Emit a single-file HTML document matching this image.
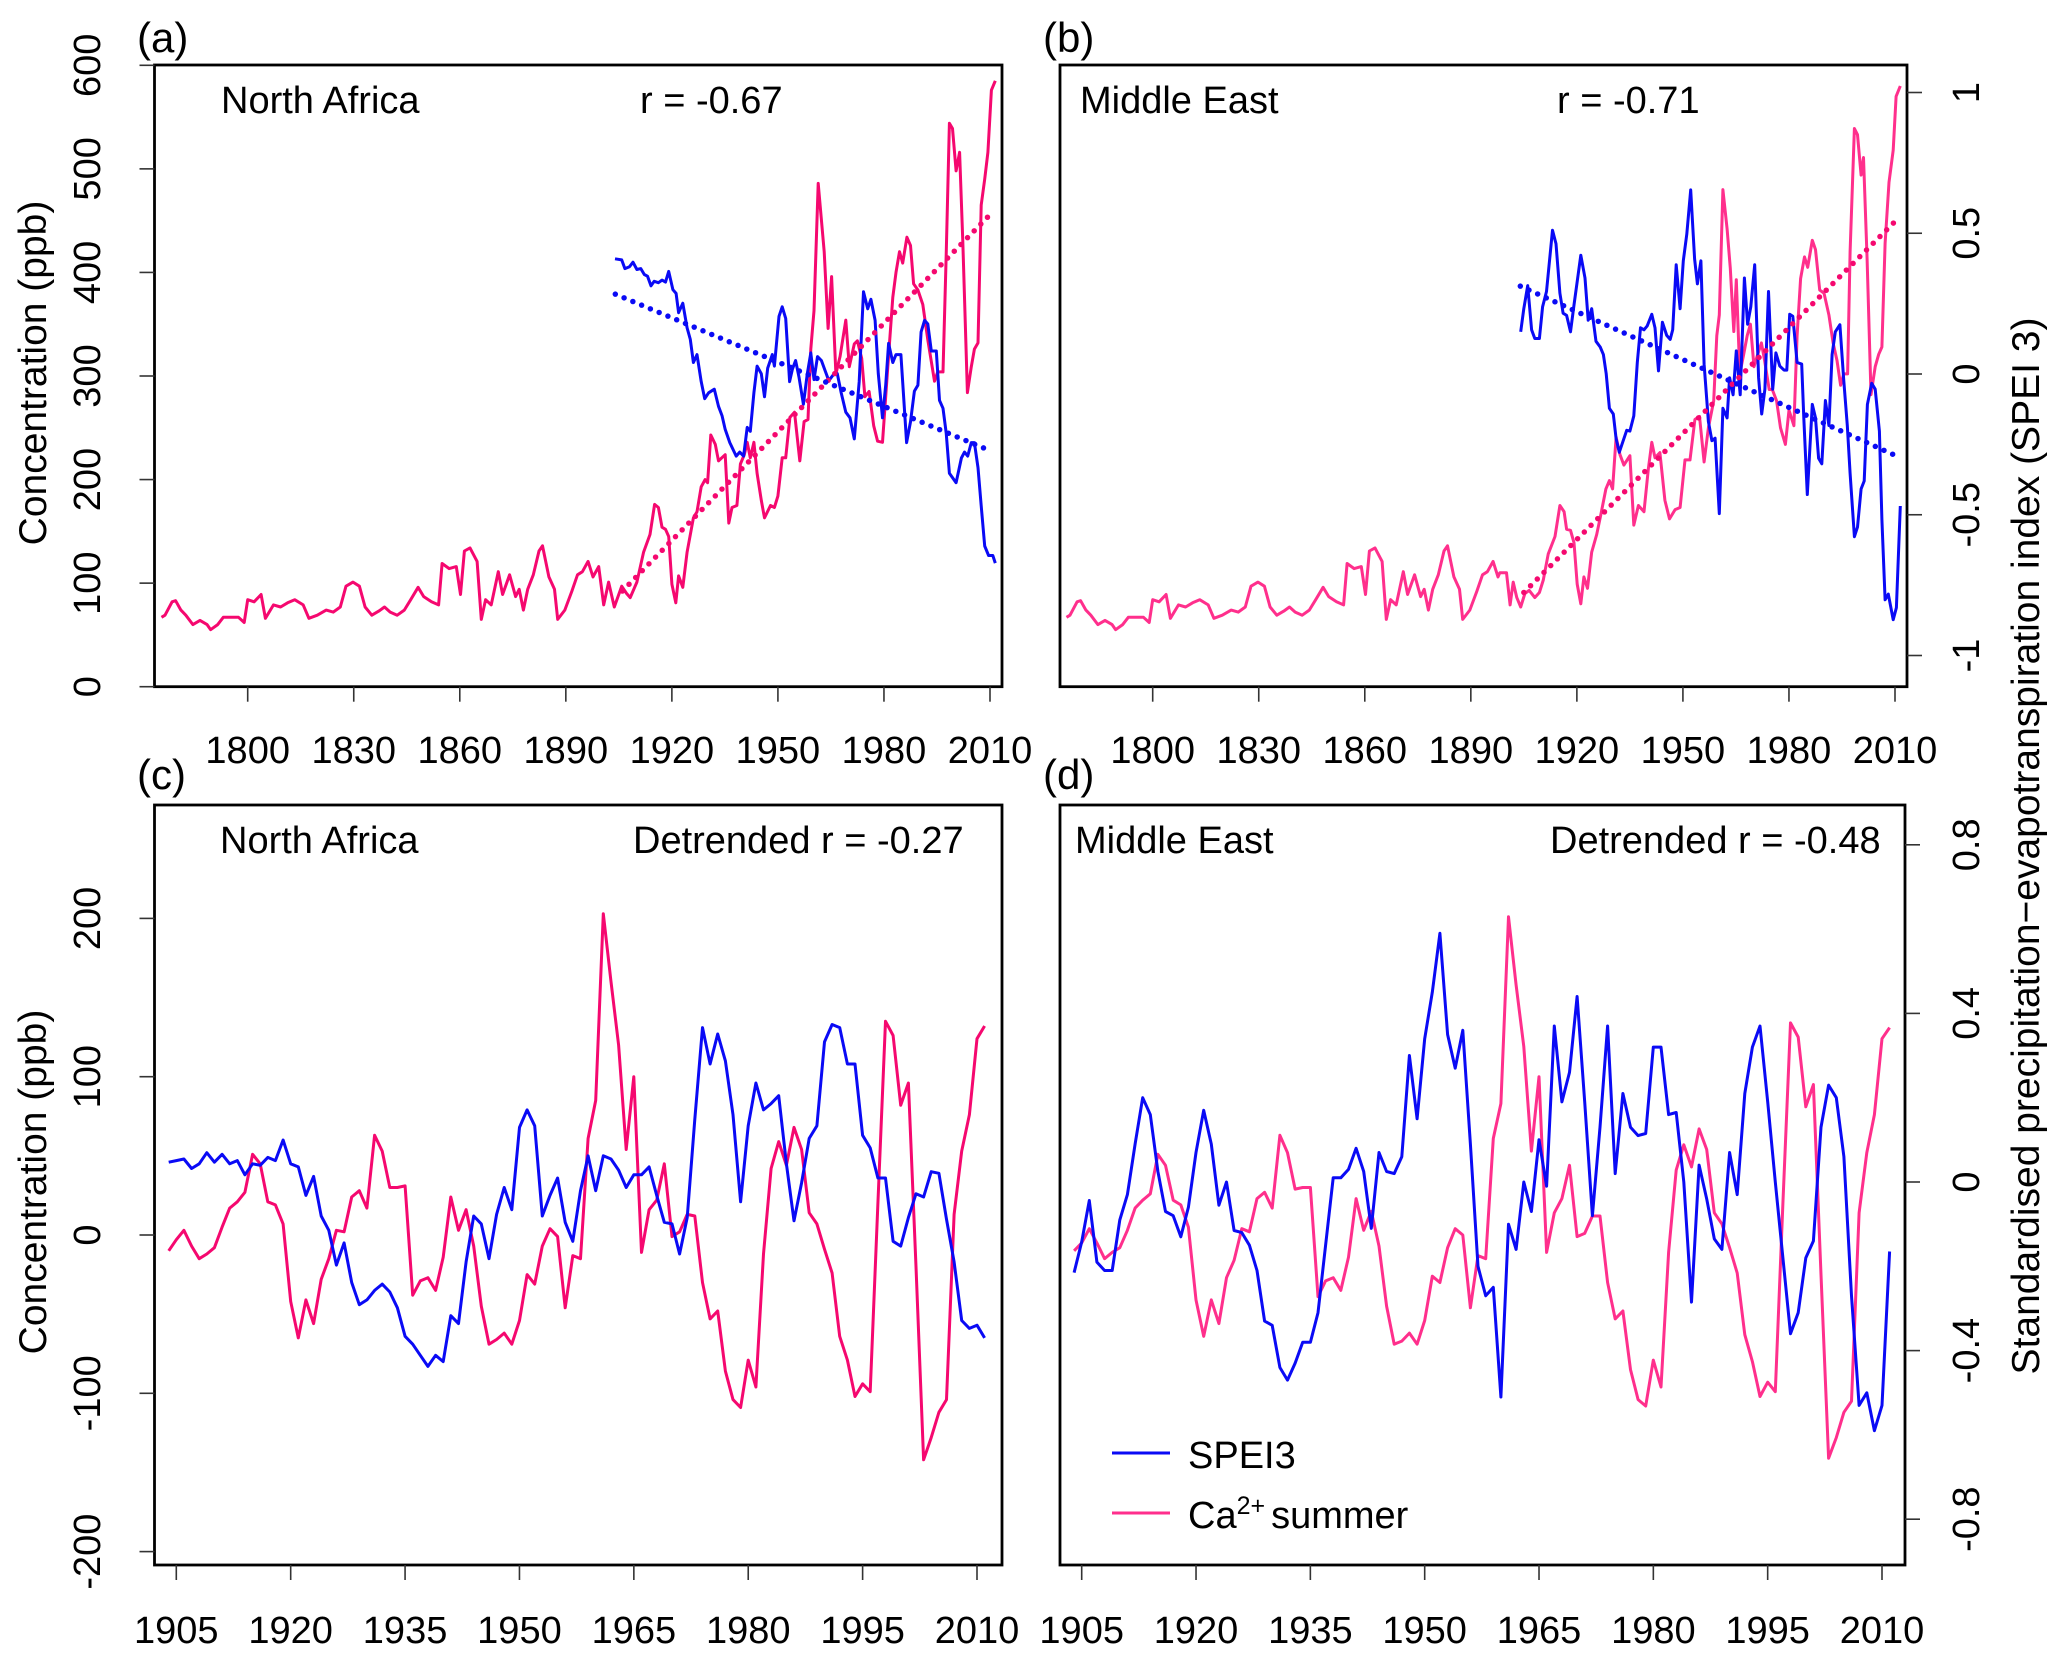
<!DOCTYPE html>
<html><head><meta charset="utf-8"><title>Ca2+ and SPEI3</title>
<style>
html,body{margin:0;padding:0;background:#fff;}
svg{display:block;font-family:"Liberation Sans",Arial,sans-serif;}
</style></head>
<body>
<svg id="chart" width="2067" height="1662" viewBox="0 0 2067 1662" xmlns="http://www.w3.org/2000/svg"></svg>
<script>
// ===== DATA =====
const earlyYears = [1775.6,1776.6,1778.6,1779.6,1781.1,1782.5,1784.5,1786.5,1788.5,1789.5,1791.5,1793.1,1795.4,1797.4,1799.0,1800,1801.8,1803.8,1805.0,1807.3,1809.3,1811.3,1813.3,1815.7,1817.3,1819.7,1822.2,1824.2,1826.2,1827.8,1829.8,1831.6,1833.2,1835.1,1837.1,1838.7,1840.3,1842.3,1844.3,1846.1,1848.2,1849.8,1852.0,1854.0,1855.0,1857.0,1859.0,1860.2,1861.3,1862.9,1864.9,1866.1,1867.3,1868.9,1870.9,1872.1,1874.1,1875.8,1876.8,1878.0,1879.2,1880.8,1882.4,1883.4,1885.2,1886.8,1887.7,1889.7,1891.7,1893.3,1894.7,1896.3,1897.7,1899.3,1900.7,1902.1,1903.7];
const earlyCa = [67,69,82,83,74,69,60,64,60,55,60,67,67,67,62,84,82,89,66,79,77,81,84,79,66,69,74,72,77,97,101,97,77,69,73,77,72,69,74,84,96,87,82,79,119,114,116,89,131,134,121,65,84,79,111,89,108,87,94,74,94,108,131,136,106,94,65,74,92,108,111,121,106,116,79,101,77];

const aLateYears = [1905.8,1907.2,1908.2,1910.1,1912,1913.8,1915.1,1916.2,1917.2,1918.2,1919.1,1920.0,1921.1,1921.9,1923.1,1924.3,1926.1,1927.1,1928.3,1929.4,1930.1,1931,1932.3,1933.2,1935.1,1936.1,1937,1938.4,1939.4,1940.5,1941.3,1942.2,1943.2,1944.1,1945.3,1946.2,1947.9,1949,1950,1951.2,1952.2,1953.4,1954.7,1956.2,1957.4,1958.5,1959.3,1960.2,1961.4,1963.1,1964.2,1965.2,1966.4,1967.6,1969.2,1970.2,1971.6,1972.5,1973.7,1974.6,1975.8,1977.1,1978.2,1979.6,1981.1,1982.5,1983.4,1984.4,1985.3,1986.5,1987.5,1988.4,1989.6,1991,1992.4,1994.3,1995.2,1996.7,1997.6,1998.5,1999.4,2000.4,2001.4,2002.3,2003.6,2004.7,2005.6,2006.6,2007.5,2008.5,2009.4,2010.4,2011.5];
const aLateCa = [97,90,86,101,130,147,176,173,154,152,145,99,81,107,96,130,163,169,193,200,197,243,234,218,224,158,173,175,215,224,236,221,236,206,180,163,175,173,184,221,221,260,265,218,256,258,326,363,486,420,346,396,302,319,354,309,331,334,317,280,285,252,237,236,309,376,400,420,409,434,426,389,383,369,335,295,304,304,417,544,539,498,516,430,284,309,326,332,465,490,516,576,585];

const aSpeiYears = [1903.9,1905.8,1906.7,1908,1909,1910.1,1911.2,1912.2,1913.1,1914.1,1915,1916.2,1917.2,1918.2,1919.1,1920.3,1921.2,1921.9,1923.1,1924.3,1925.2,1926.1,1927.1,1928.3,1929.3,1930.4,1932,1933.2,1934.2,1935.1,1936.4,1938.2,1939.2,1940.3,1941.3,1942.2,1943.2,1944.1,1945.3,1946.2,1947.1,1948.4,1949,1950.3,1951.2,1952.2,1953.3,1954.1,1955,1956,1957.2,1958.3,1959.3,1960.2,1961.2,1962.3,1963.5,1964.4,1965.7,1966.8,1967.9,1969.2,1970.4,1971.6,1973,1974.2,1975.4,1976.3,1977.5,1978.4,1979.6,1980.5,1981.3,1982.5,1983.4,1984.8,1986.4,1987.5,1988.6,1989.6,1990.5,1991.5,1992.4,1993.4,1994.8,1995.7,1996.7,1997.6,1998.5,2000.4,2001.9,2002.8,2003.7,2004.7,2005.6,2006.6,2007.5,2008.5,2009.6,2010.8,2011.5];
const aSpei = [0.41,0.406,0.375,0.382,0.398,0.372,0.375,0.354,0.348,0.314,0.33,0.325,0.334,0.327,0.365,0.3,0.287,0.218,0.252,0.164,0.123,0.041,0.069,-0.027,-0.088,-0.067,-0.054,-0.115,-0.149,-0.197,-0.244,-0.292,-0.278,-0.292,-0.19,-0.204,-0.067,0.028,0.001,-0.081,0.021,0.069,0.028,0.205,0.239,0.198,-0.027,0.017,0.048,-0.013,-0.108,0.001,0.075,-0.02,0.062,0.048,0.007,-0.024,-0.002,0.001,-0.067,-0.136,-0.156,-0.231,-0.027,0.293,0.232,0.266,0.191,0.001,-0.156,-0.04,0.109,0.041,0.069,0.069,-0.244,-0.17,-0.061,-0.04,0.15,0.191,0.178,0.082,0.082,-0.094,-0.122,-0.21,-0.353,-0.387,-0.299,-0.278,-0.292,-0.244,-0.244,-0.333,-0.469,-0.612,-0.646,-0.646,-0.673];

const bLateYears = [1898.2,1900.1,1901.1,1902,1903,1904.1,1905.3,1906.5,1908.1,1909.4,1910.5,1911.9,1913.8,1915.2,1916.4,1917.1,1918.2,1919.2,1920.1,1921.1,1922,1923,1924.2,1925.6,1926.7,1928.2,1929.2,1930.1,1931.1,1932.2,1933.3,1935,1936.1,1937.4,1939,1940.2,1941.2,1942.1,1943.5,1944.9,1946.2,1947.8,1949.2,1950.6,1952,1953.4,1954.7,1956,1957.2,1958.7,1959.6,1960.3,1961.3,1962.5,1963.4,1964.4,1965.1,1966.1,1967.2,1968.2,1969.1,1970.1,1971,1972.2,1973.1,1974.4,1975.3,1976.5,1977.6,1979,1980,1981.4,1982.3,1983.3,1984.4,1985.3,1986.6,1987.5,1988.7,1989.9,1991.3,1992.5,1993.6,1994.6,1995.5,1996.6,1997.3,1998.5,1999.4,2000.4,2001.1,2002.1,2003.2,2004.4,2005.4,2006.3,2007.2,2008.3,2009.5,2010.3,2011.5];
const bLateCa = [110,110,79,101,86,77,90,93,86,91,103,128,145,175,169,152,151,139,99,80,106,95,130,147,165,191,199,191,241,224,214,223,156,175,169,210,236,221,226,180,162,171,173,219,219,258,261,217,250,276,339,359,480,442,404,343,393,302,321,339,350,309,319,332,315,287,287,276,250,234,267,252,339,394,415,405,431,422,383,380,359,332,315,291,302,302,420,539,533,494,511,413,282,309,321,328,428,487,518,570,580];

const bSpeiYears = [1904.1,1905,1906.1,1907.2,1908.1,1909.4,1910.3,1911.4,1913.1,1914.1,1915.2,1916.1,1917.1,1918.2,1919.2,1921.1,1922.3,1923.2,1924.2,1925.4,1926.6,1927.5,1928.3,1929.2,1930.3,1931.1,1932,1933.1,1934.1,1935,1936.1,1937.1,1938,1939,1939.9,1941.2,1942.1,1943.1,1944.2,1945.4,1946.4,1947.1,1948.1,1949.2,1950.1,1951.1,1952.2,1953.3,1954.1,1955.1,1956,1957.2,1958.2,1959.1,1960.3,1961.3,1962.5,1963.2,1964.2,1965.1,1966.2,1967.4,1968.3,1969.2,1970.3,1971.4,1972.3,1973.2,1974.2,1975.4,1976.3,1977.4,1978.6,1979.4,1980.2,1981.1,1982.3,1983.6,1984.2,1985.2,1986.6,1987.5,1988.4,1989.3,1990.3,1991.3,1992.2,1993.1,1994.4,1995.5,1996.5,1997.3,1998.5,1999.4,2000.4,2001.3,2002.2,2003.4,2004.4,2005.6,2006.3,2007.2,2008.1,2009.5,2010.4,2011.5];
const bSpei = [0.15,0.232,0.314,0.157,0.126,0.126,0.239,0.293,0.511,0.463,0.287,0.216,0.208,0.15,0.245,0.422,0.341,0.191,0.232,0.116,0.096,0.069,0.001,-0.122,-0.142,-0.23,-0.278,-0.237,-0.2,-0.203,-0.149,0.041,0.164,0.157,0.171,0.212,0.164,0.011,0.184,0.137,0.123,0.157,0.388,0.232,0.402,0.497,0.654,0.409,0.32,0.402,0.035,-0.169,-0.237,-0.228,-0.496,-0.122,-0.156,-0.013,-0.074,0.082,-0.074,0.341,0.177,0.239,0.388,-0.013,-0.142,-0.054,0.293,-0.054,0.075,0.028,0.014,0.014,0.212,0.205,0.041,0.035,-0.156,-0.428,-0.108,-0.156,-0.299,-0.319,-0.094,-0.183,0.069,0.15,0.175,-0.02,-0.183,-0.353,-0.578,-0.544,-0.408,-0.38,-0.108,-0.033,-0.054,-0.203,-0.517,-0.802,-0.782,-0.873,-0.83,-0.469];

const cYears = [1904,1905,1906,1907,1908,1909,1910,1911,1912,1913,1914,1915,1916,1917,1918,1919,1920,1921,1922,1923,1924,1925,1926,1927,1928,1929,1930,1931,1932,1933,1934,1935,1936,1937,1938,1939,1940,1941,1942,1943,1944,1945,1946,1947,1948,1949,1950,1951,1952,1953,1954,1955,1956,1957,1958,1959,1960,1961,1962,1963,1964,1965,1966,1967,1968,1969,1970,1971,1972,1973,1974,1975,1976,1977,1978,1979,1980,1981,1982,1983,1984,1985,1986,1987,1988,1989,1990,1991,1992,1993,1994,1995,1996,1997,1998,1999,2000,2001,2002,2003,2004,2005,2006,2007,2008,2009,2010,2011];
const cCaDetrended = [-10,-3,3,-7,-15,-12,-8,5,17,21,27,51,45,21,19,7,-42,-65,-41,-56,-28,-15,3,2,24,28,17,63,53,30,30,31,-38,-29,-27,-35,-14,24,3,16,-7,-45,-69,-66,-62,-69,-54,-25,-31,-7,4,-1,-46,-13,-15,61,85,203,160,120,54,100,-11,16,22,45,-1,2,13,12,-30,-53,-48,-86,-104,-109,-79,-96,-12,42,59,44,68,54,14,7,-9,-24,-64,-79,-102,-94,-99,20,135,126,82,96,-20,-142,-128,-112,-104,13,53,76,124,132];
const cSpeiScaled = [46,47,48,42,45,52,46,51,45,47,38,45,44,49,47,60,45,43,25,37,12,3,-19,-5,-30,-44,-41,-35,-31,-36,-46,-64,-69,-76,-83,-76,-80,-51,-56,-17,12,7,-15,13,30,16,68,79,69,12,25,36,8,-4,28,50,28,50,48,41,30,38,38,43,25,8,7,-12,11,73,131,108,127,110,76,21,69,96,79,83,88,45,9,33,61,69,122,133,131,108,108,63,55,36,36,-4,-7,11,26,24,40,39,10,-17,-54,-59,-57,-65];

const dCaDetrended = [-10,-5,4,-5,-15,-11,-8,3,17,22,26,51,44,22,19,5,-41,-64,-41,-56,-27,-16,4,2,23,27,17,63,52,29,30,30,-39,-29,-27,-35,-14,23,3,15,-7,-45,-69,-67,-62,-69,-54,-26,-30,-8,4,0,-46,-13,-15,61,83,201,158,119,53,100,-11,14,23,44,-1,1,12,12,-30,-53,-48,-85,-104,-108,-79,-96,-11,41,57,43,67,54,14,7,-8,-24,-63,-80,-102,-93,-99,20,134,125,81,95,-25,-141,-128,-112,-105,14,52,76,124,131];
const dSpei = [-0.215,-0.142,-0.044,-0.19,-0.21,-0.21,-0.09,-0.03,0.09,0.2,0.16,0.025,-0.07,-0.08,-0.13,-0.06,0.07,0.17,0.09,-0.055,0,-0.115,-0.12,-0.15,-0.21,-0.33,-0.34,-0.44,-0.47,-0.43,-0.38,-0.38,-0.31,-0.15,0.01,0.01,0.03,0.08,0.025,-0.11,0.07,0.025,0.02,0.06,0.3,0.15,0.34,0.45,0.59,0.35,0.27,0.36,0.09,-0.2,-0.27,-0.25,-0.51,-0.1,-0.16,0,-0.07,0.1,-0.01,0.37,0.19,0.26,0.44,0.19,-0.08,0.13,0.37,0.02,0.21,0.13,0.11,0.115,0.32,0.32,0.16,0.165,0,-0.285,0.04,-0.04,-0.135,-0.16,0.07,-0.03,0.21,0.32,0.37,0.19,0,-0.18,-0.36,-0.31,-0.18,-0.14,0.13,0.23,0.2,0.06,-0.27,-0.53,-0.5,-0.59,-0.53,-0.165];

const xTicksLong = [1800,1830,1860,1890,1920,1950,1980,2010];
const xTicksShort = [1905,1920,1935,1950,1965,1980,1995,2010];
const yTicksA = [0,100,200,300,400,500,600];
const yTicksC = [-200,-100,0,100,200];
const yTicksSpeiB = [-1,-0.5,0,0.5,1];
const yTicksSpeiD = [-0.8,-0.4,0,0.4,0.8];

const aCaYears = earlyYears.concat(aLateYears);
const aCa = earlyCa.concat(aLateCa);
const bCaYears = earlyYears.filter(y => y < 1898).concat(bLateYears);
const bCa = earlyCa.slice(0, earlyYears.filter(y => y < 1898).length).concat(bLateCa);

// ===== DRAWING =====
const NS = "http://www.w3.org/2000/svg";
const svg = document.getElementById("chart");
const BLUE = "#0a0af5", PINK_A = "#f5086f", PINK_B = "#ff2f8c";
const LW = 3;

function el(tag, attrs, parent) {
  const e = document.createElementNS(NS, tag);
  for (const k in attrs) e.setAttribute(k, attrs[k]);
  (parent || svg).appendChild(e);
  return e;
}
function lin(d0, d1, r0, r1) { return v => r0 + (v - d0) * (r1 - r0) / (d1 - d0); }
function regress(xs, ys, minX) {
  let n=0,sx=0,sy=0,sxx=0,sxy=0;
  for (let i=0;i<xs.length;i++){ if(xs[i]<minX) continue; n++; sx+=xs[i]; sy+=ys[i]; sxx+=xs[i]*xs[i]; sxy+=xs[i]*ys[i]; }
  const b=(n*sxy-sx*sy)/(n*sxx-sx*sx); const a=(sy-b*sx)/n; return [a,b];
}
function series(g, xs, ys, xf, yf, color, name) {
  const pts = xs.map((x,i) => xf(x).toFixed(1)+","+yf(ys[i]).toFixed(1)).join(" ");
  const p = el("polyline", {points: pts, fill: "none", stroke: color, "stroke-width": LW, "stroke-linejoin": "round"}, g);
  
  
}
function trend(g, xs, ys, xf, yf, color, x0, x1, name) {
  const [a,b] = regress(xs, ys, 1903);
  const l = el("line", {x1: xf(x0), y1: yf(a+b*x0), x2: xf(x1), y2: yf(a+b*x1), stroke: color, "stroke-width": 5.5, "stroke-linecap": "round", "stroke-dasharray": "0 9.5"}, g);
  
  
}
function text(g, str, x, y, size, anchor, name, transform) {
  const t = el("text", {x: x, y: y, "font-size": size, "text-anchor": anchor || "start", fill: "#000"}, g);
  if (transform) t.setAttribute("transform", transform);
  t.textContent = str;
  
  
  return t;
}
function box(g, x0, y0, x1, y1, name) {
  const r = el("rect", {x: x0, y: y0, width: x1-x0, height: y1-y0, fill: "none", stroke: "#000", "stroke-width": 2.8}, g);
  
  
}
function xAxis(g, ticks, xf, yb, labelY, name) {
  const ax = el("g", {}, g);
  
  
  ticks.forEach(t => {
    el("line", {x1: xf(t), y1: yb, x2: xf(t), y2: yb+15, stroke: "#333", "stroke-width": 1.6}, ax);
    text(ax, String(t), xf(t), labelY, 38, "middle", "x-tick-label");
  });
}
function yAxis(g, ticks, yf, xb, side, labelX, name) {
  const ax = el("g", {}, g);
  
  
  ticks.forEach(t => {
    const y = yf(t);
    el("line", {x1: xb, y1: y, x2: xb + side*15, y2: y, stroke: "#333", "stroke-width": 1.6}, ax);
    text(ax, String(t), 0, 0, 38, "middle", "y-tick-label", `translate(${labelX},${y}) rotate(-90)`);
  });
}

// ---- Panel (a) ----
const ga = el("g", {});  
const xa = lin(1800, 2010, 247.7, 990), yaCa = lin(0, 600, 686.7, 65.3), yaSp = lin(0, 1, 374, 93);
series(ga, aCaYears, aCa, xa, yaCa, PINK_A, "ca-summer-line");
series(ga, aSpeiYears, aSpei, xa, yaSp, BLUE, "spei3-line");
trend(ga, aCaYears, aCa, xa, yaCa, PINK_A, 1906, 2010.5, "ca-trend-line");
trend(ga, aSpeiYears, aSpei, xa, yaSp, BLUE, 1904, 2010.5, "spei3-trend-line");
box(ga, 154.5, 65, 1002, 686.7, "plot-frame");
xAxis(ga, xTicksLong, xa, 686.7, 763, "x-axis");
yAxis(ga, yTicksA, yaCa, 154.5, -1, 100, "y-axis");
text(ga, "(a)", 137, 52, 42, "start", "panel-label");
text(ga, "North Africa", 221, 113, 38, "start", "region-title");
text(ga, "r = -0.67", 640, 113, 38, "start", "correlation-label");
text(ga, "Concentration (ppb)", 0, 0, 39, "middle", "y-axis-title", "translate(46,373) rotate(-90)");

// ---- Panel (b) ----
const gb = el("g", {});  
const xb = lin(1800, 2010, 1152.7, 1895), ybCa = lin(0, 600, 686.7, 65.3), ybSp = lin(0, 1, 374, 92.5);
series(gb, bCaYears, bCa, xb, ybCa, PINK_B, "ca-summer-line");
series(gb, bSpeiYears, bSpei, xb, ybSp, BLUE, "spei3-line");
trend(gb, bCaYears, bCa, xb, ybCa, PINK_A, 1905, 2010.5, "ca-trend-line");
trend(gb, bSpeiYears, bSpei, xb, ybSp, BLUE, 1904, 2010.5, "spei3-trend-line");
box(gb, 1060, 65, 1907, 686.7, "plot-frame");
xAxis(gb, xTicksLong, xb, 686.7, 763, "x-axis");
yAxis(gb, yTicksSpeiB, ybSp, 1907, 1, 1979, "right-y-axis");
text(gb, "(b)", 1043, 52, 42, "start", "panel-label");
text(gb, "Middle East", 1080, 113, 38, "start", "region-title");
text(gb, "r = -0.71", 1557, 113, 38, "start", "correlation-label");
text(gb, "Standardised precipitation\u2212evapotranspiration index (SPEI 3)", 0, 0, 39, "middle", "right-y-axis-title", "translate(2039,846) rotate(-90)");

// ---- Panel (c) ----
const gc = el("g", {});  
const xc = lin(1905, 2010, 176.3, 977), yc = lin(0, 100, 1235, 1076.7);
series(gc, cYears, cCaDetrended, xc, yc, PINK_A, "ca-summer-detrended-line");
series(gc, cYears, cSpeiScaled, xc, yc, BLUE, "spei3-detrended-line");
box(gc, 154.5, 805, 1002, 1565, "plot-frame");
xAxis(gc, xTicksShort, xc, 1565, 1643, "x-axis");
yAxis(gc, yTicksC, yc, 154.5, -1, 100, "y-axis");
text(gc, "(c)", 137, 789, 42, "start", "panel-label");
text(gc, "North Africa", 220, 853, 38, "start", "region-title");
text(gc, "Detrended r = -0.27", 633, 853, 38, "start", "correlation-label");
text(gc, "Concentration (ppb)", 0, 0, 39, "middle", "y-axis-title", "translate(46,1182) rotate(-90)");

// ---- Panel (d) ----
const gd = el("g", {});  
const xd = lin(1905, 2010, 1081.7, 1882), ydCa = lin(0, 100, 1235, 1076.7), ydSp = lin(0, 0.4, 1182, 1013.4);
series(gd, cYears, dCaDetrended, xd, ydCa, PINK_B, "ca-summer-detrended-line");
series(gd, cYears, dSpei, xd, ydSp, BLUE, "spei3-detrended-line");
box(gd, 1060, 805, 1905, 1565, "plot-frame");
xAxis(gd, xTicksShort, xd, 1565, 1643, "x-axis");
yAxis(gd, yTicksSpeiD, ydSp, 1905, 1, 1979, "right-y-axis");
text(gd, "(d)", 1043, 789, 42, "start", "panel-label");
text(gd, "Middle East", 1075, 853, 38, "start", "region-title");
text(gd, "Detrended r = -0.48", 1550, 853, 38, "start", "correlation-label");

// legend
const lg = el("g", {}, gd);  
const l1 = el("line", {x1: 1112, y1: 1453, x2: 1170, y2: 1453, stroke: BLUE, "stroke-width": LW}, lg);
 
text(lg, "SPEI3", 1188, 1468, 38, "start", "legend-entry-spei3");
const l2 = el("line", {x1: 1112, y1: 1513, x2: 1170, y2: 1513, stroke: PINK_B, "stroke-width": LW}, lg);
 
const lt = text(lg, "Ca", 1188, 1528, 38, "start", "legend-entry-ca-summer");
const sup = el("tspan", {"font-size": 25, dy: -14}, lt); sup.textContent = "2+";
const rest = el("tspan", {dy: 14, dx: 6}, lt); rest.textContent = "summer";
</script>
</body></html>
